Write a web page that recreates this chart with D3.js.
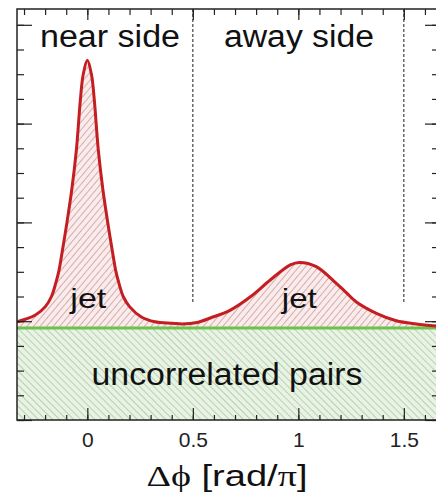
<!DOCTYPE html>
<html>
<head>
<meta charset="utf-8">
<script src="https://cdn.jsdelivr.net/npm/d3@7"></script>
<style>
  html, body { margin: 0; padding: 0; background: #fff; }
  svg { display: block; font-family: "Liberation Sans", Arial, sans-serif; }
</style>
</head>
<body>
<div id="chart"></div>
<script>
/***** Data *****/
// correlation curve: [dphi (rad/pi), yield]
const curveX = [-0.333, -0.294, -0.246, -0.199, -0.170, -0.150, -0.134, -0.123, -0.097, -0.074, -0.052, -0.033, -0.020,
                0, 0.020, 0.033, 0.052, 0.074, 0.097, 0.123, 0.134, 0.150, 0.170, 0.200, 0.258, 0.320, 0.404, 0.450,
                0.520, 0.583, 0.678, 0.773, 0.867, 0.962, 1.005, 1.085, 1.180, 1.227, 1.275, 1.370, 1.464, 1.559, 1.667];
const curveY = [3.98, 4.08, 4.25, 4.59, 5.00, 5.53, 6.07, 6.61, 7.98, 9.31, 10.93, 12.96, 13.97,
                14.57, 13.97, 12.96, 10.93, 9.31, 7.98, 6.61, 6.07, 5.53, 5.00, 4.59, 4.16, 3.98, 3.92, 3.89,
                3.95, 4.13, 4.45, 4.99, 5.67, 6.28, 6.38, 6.21, 5.53, 5.16, 4.78, 4.32, 4.02, 3.89, 3.80];
const uncorrelated = 3.72;           // flat pedestal level
const sideBounds   = [0.5, 1.5];     // dashed separators
const sideTop      = 4.78;           // where the dashed lines stop
const xMajor = [0, 0.5, 1, 1.5];
const xLabels = ["0", "0.5", "1", "1.5"];
const yMajor = [0, 4, 8, 12, 16];

const points = curveX.map((x, i) => [x, curveY[i]]);

/***** Layout *****/
const W = 436, H = 494;
const x = d3.scaleLinear().domain([-1/3, 5/3]).range([17, 439]);
const y = d3.scaleLinear().domain([0, 16.64]).range([420, 9]);
const xMinor = d3.range(-3, 17).map(i => i / 10);
const yMinor = d3.range(0, 17);

const svg = d3.select("#chart").append("svg")
  .attr("width", W).attr("height", H);

/***** Hatch patterns *****/
const defs = svg.append("defs");
function hatch(id, bg, stroke, angle, gap) {
  const p = defs.append("pattern").attr("id", id)
    .attr("patternUnits", "userSpaceOnUse")
    .attr("width", gap).attr("height", gap)
    .attr("patternTransform", `rotate(${angle})`);
  p.append("rect").attr("width", gap).attr("height", gap).attr("fill", bg);
  p.append("line").attr("x1", 0).attr("y1", 0).attr("x2", 0).attr("y2", gap)
    .attr("stroke", stroke).attr("stroke-width", 0.9);
}
hatch("jetHatch", "#fcebea", "#8e6c6c", 40, 5);
hatch("uncHatch", "#e8f4e2", "#8c9c8c", -45, 5);

defs.append("clipPath").attr("id", "plotClip")
  .append("rect").attr("x", 17).attr("y", 9).attr("width", 422).attr("height", 411);

const plot = svg.append("g").attr("clip-path", "url(#plotClip)");

// uncorrelated pedestal
plot.append("rect")
  .attr("x", x(-1/3)).attr("width", x(5/3) - x(-1/3))
  .attr("y", y(uncorrelated)).attr("height", y(0) - y(uncorrelated))
  .attr("fill", "url(#uncHatch)");

// jet area between curve and pedestal
const area = d3.area().curve(d3.curveCatmullRom)
  .x(d => x(d[0])).y0(y(uncorrelated)).y1(d => y(d[1]));
plot.append("path").datum(points).attr("d", area).attr("fill", "url(#jetHatch)");

// dashed separators
plot.selectAll(".sep").data(sideBounds).join("line")
  .attr("x1", d => x(d)).attr("x2", d => x(d))
  .attr("y1", y(16.64)).attr("y2", y(sideTop))
  .attr("stroke", "#333").attr("stroke-width", 1.1).attr("stroke-dasharray", "3,2");

// pedestal line
plot.append("line")
  .attr("x1", x(-1/3)).attr("x2", x(5/3))
  .attr("y1", y(uncorrelated)).attr("y2", y(uncorrelated))
  .attr("stroke", "#6cc24c").attr("stroke-width", 3);

// correlation curve
const line = d3.line().curve(d3.curveCatmullRom).x(d => x(d[0])).y(d => y(d[1]));
plot.append("path").datum(points).attr("d", line)
  .attr("fill", "none").attr("stroke", "#c41d22").attr("stroke-width", 3)
  .attr("stroke-linejoin", "round");

/***** Axes *****/
function tickAxis(axis, vals, size, tr) {
  const g = svg.append("g").attr("transform", tr)
    .call(axis.tickValues(vals).tickSizeInner(size).tickSizeOuter(0).tickFormat(""));
  g.select(".domain").remove();
  g.selectAll("line").attr("stroke", "#222").attr("stroke-width", 1.2);
  return g;
}
// top (ticks pointing down)
tickAxis(d3.axisBottom(x), xMinor, 6, `translate(0,${y(16.64)})`);
tickAxis(d3.axisBottom(x), xMajor, 11, `translate(0,${y(16.64)})`);
// bottom (ticks pointing up)
tickAxis(d3.axisBottom(x), xMinor, -5, `translate(0,${y(0)})`);
tickAxis(d3.axisBottom(x), xMajor, -12, `translate(0,${y(0)})`);
// left (pointing right) and right (pointing left)
tickAxis(d3.axisLeft(y), yMinor, -7, `translate(${x(-1/3)},0)`);
tickAxis(d3.axisLeft(y), yMajor, -15, `translate(${x(-1/3)},0)`);
tickAxis(d3.axisRight(y), yMinor, -7, `translate(${x(5/3)},0)`);
tickAxis(d3.axisRight(y), yMajor, -14, `translate(${x(5/3)},0)`);

// tick labels
const xl = svg.append("g").attr("transform", `translate(0,${y(0)})`)
  .call(d3.axisBottom(x).tickValues(xMajor).tickSize(0).tickPadding(12)
    .tickFormat((d, i) => xLabels[i]));
xl.select(".domain").remove();
xl.selectAll("text").attr("font-size", 21).attr("fill", "#222")
  .attr("font-family", "Liberation Sans, Arial, sans-serif");

// frame
svg.append("rect")
  .attr("x", x(-1/3)).attr("y", y(16.64))
  .attr("width", x(5/3) - x(-1/3)).attr("height", y(0) - y(16.64))
  .attr("fill", "none").attr("stroke", "#222").attr("stroke-width", 1.5);

/***** Text *****/
function label(txt, cx, base, size, len) {
  return svg.append("text").attr("x", cx).attr("y", base)
    .attr("text-anchor", "middle").attr("font-size", size).attr("fill", "#111")
    .attr("textLength", len).attr("lengthAdjust", "spacingAndGlyphs")
    .text(txt);
}
label("near side", 110, 47, 31, 140);
label("away side", 299, 47, 31, 150);
label("jet", x(0) + 1, 308, 28, 36);
label("jet", x(1) + 1, 308, 28, 35);
label("uncorrelated pairs", 227, 385, 31, 271);

const title = svg.append("text").attr("x", 227).attr("y", 486)
  .attr("text-anchor", "middle").attr("font-size", 29).attr("fill", "#111")
  .attr("textLength", 161).attr("lengthAdjust", "spacingAndGlyphs");
title.append("tspan").attr("font-family", "Liberation Serif, serif").text("Δϕ");
title.append("tspan").text(" [rad/");
title.append("tspan").attr("font-family", "Liberation Serif, serif").text("π");
title.append("tspan").text("]");
</script>
</body>
</html>
